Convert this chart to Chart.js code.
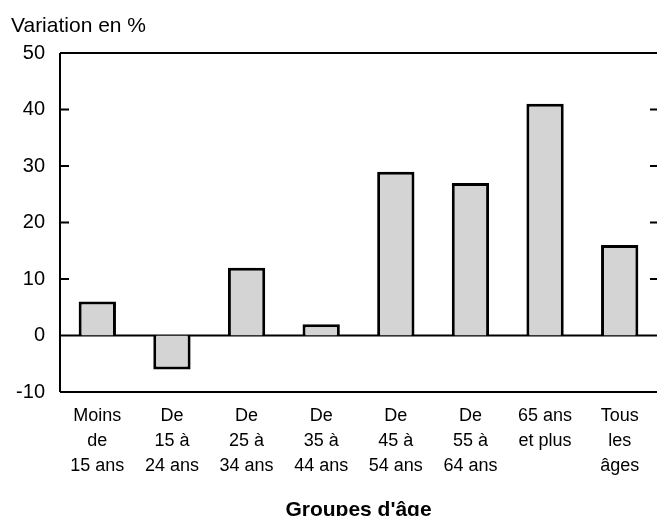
<!DOCTYPE html>
<html>
<head>
<meta charset="utf-8">
<script src="https://cdn.jsdelivr.net/npm/chart.js@4/dist/chart.umd.min.js"></script>
<style>
  html, body { margin: 0; padding: 0; background: #fff; }
  #wrap { position: relative; width: 657px; height: 516px; }
</style>
</head>
<body>
<div id="wrap"><canvas id="chart"></canvas></div>
<script>
const categories = [
  ['Moins', 'de', '15 ans'],
  ['De', '15 à', '24 ans'],
  ['De', '25 à', '34 ans'],
  ['De', '35 à', '44 ans'],
  ['De', '45 à', '54 ans'],
  ['De', '55 à', '64 ans'],
  ['65 ans', 'et plus'],
  ['Tous', 'les', 'âges']
];
const variation = [6, -6, 12, 2, 29, 27, 41, 16];
const yTicks = [-10, 0, 10, 20, 30, 40, 50];

const font = 'Liberation Sans, Arial, sans-serif';

// frame, zero line, inward ticks and the two texts
const frame = {
  id: 'frame',
  beforeDatasetsDraw(chart) {
    const { ctx, chartArea: a, scales: { y } } = chart;
    ctx.save();
    ctx.strokeStyle = '#000';
    ctx.lineWidth = 2;
    ctx.beginPath();
    ctx.moveTo(a.left, y.getPixelForValue(50));
    ctx.lineTo(a.left, y.getPixelForValue(-10));
    ctx.moveTo(a.left, y.getPixelForValue(50));
    ctx.lineTo(a.right, y.getPixelForValue(50));
    ctx.moveTo(a.left, y.getPixelForValue(-10));
    ctx.lineTo(a.right, y.getPixelForValue(-10));
    ctx.moveTo(a.left, y.getPixelForValue(0));
    ctx.lineTo(a.right, y.getPixelForValue(0));
    yTicks.forEach(v => {
      const py = y.getPixelForValue(v);
      ctx.moveTo(a.left, py);
      ctx.lineTo(a.left + 9, py);
      ctx.moveTo(a.right - 7, py);
      ctx.lineTo(a.right, py);
    });
    ctx.stroke();
    ctx.fillStyle = '#000';
    ctx.font = '21px ' + font;
    ctx.textBaseline = 'alphabetic';
    ctx.fillText('Variation en %', 11, 32);
    ctx.font = 'bold 21px ' + font;
    ctx.textAlign = 'center';
    ctx.fillText("Groupes d'âge", (a.left + a.right) / 2, 516);
    ctx.restore();
  }
};

new Chart(document.getElementById('chart'), {
  type: 'bar',
  data: {
    labels: categories,
    datasets: [{
      data: variation,
      backgroundColor: '#d4d4d4',
      borderColor: '#000',
      borderWidth: 3,
      barPercentage: 0.5,
      categoryPercentage: 1
    }]
  },
  options: {
    responsive: true,
    maintainAspectRatio: false,
    animation: false,
    layout: { padding: { top: 53, right: 0, left: 0, bottom: 0 } },
    scales: {
      y: {
        min: -10,
        max: 50,
        afterFit(scale) { scale.width = 60; },
        afterBuildTicks(scale) { scale.ticks = yTicks.map(v => ({ value: v })); },
        grid: { display: false, drawTicks: false },
        border: { display: false },
        ticks: { color: '#000', font: { family: font, size: 20 }, padding: 15 }
      },
      x: {
        afterFit(scale) { scale.height = 124; },
        grid: { display: false, drawTicks: false },
        border: { display: false },
        ticks: { color: '#000', font: { family: font, size: 18, lineHeight: 1.38 }, padding: 12, maxRotation: 0, autoSkip: false }
      }
    },
    plugins: {
      legend: { display: false },
      tooltip: { enabled: false }
    }
  },
  plugins: [frame]
});
</script>
</body>
</html>
